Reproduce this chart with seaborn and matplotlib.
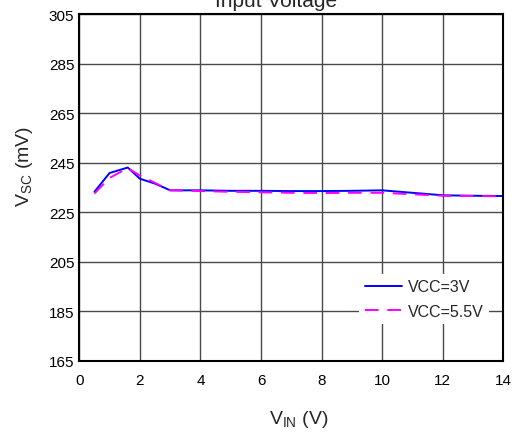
import pandas as pd
import seaborn as sns
import matplotlib.pyplot as plt

# values
vin = [0.5, 1.0, 1.6, 2.0, 2.5, 3.0, 4.0, 5.0, 6.0, 7.0, 8.0, 9.0, 10.0, 11.0, 12.0, 13.0, 14.0]
vsc_3v = [233.2, 240.8, 243.0, 238.5, 236.5, 233.8, 233.8, 233.6, 233.6, 233.5, 233.5, 233.6, 233.8, 232.8, 231.8, 231.6, 231.5]
vsc_55v = [232.5, 238.8, 242.8, 239.8, 236.8, 233.8, 233.5, 233.2, 233.0, 232.8, 232.7, 232.8, 232.8, 232.2, 231.6, 231.5, 231.4]
series = ['VCC=3V', 'VCC=5.5V']
x_ticks = [0, 2, 4, 6, 8, 10, 12, 14]
y_ticks = [165, 185, 205, 225, 245, 265, 285, 305]

df = pd.DataFrame({
    'vin': vin + vin,
    'vsc': vsc_3v + vsc_55v,
    'series': [series[0]] * len(vin) + [series[1]] * len(vin),
})

sns.set_style('white')
plt.rcParams['font.family'] = ['Liberation Sans', 'DejaVu Sans']
plt.rcParams['mathtext.fontset'] = 'custom'
plt.rcParams['mathtext.rm'] = 'Liberation Sans'

fig = plt.figure(figsize=(5.2, 4.35), dpi=100)
ax = fig.add_axes([0.1525, 0.1685, 0.8155, 0.797])

sns.lineplot(data=df, x='vin', y='vsc', hue='series', style='series',
             palette={series[0]: '#0000ff', series[1]: '#ff00ff'},
             dashes={series[0]: '', series[1]: (7, 4.5)},
             linewidth=1.4, ax=ax)

ax.set_xlim(0, 14)
ax.set_ylim(165, 305)
ax.set_xticks(x_ticks)
ax.set_yticks(y_ticks)
ax.tick_params(axis='both', length=0, labelsize=11, colors='black')
ax.tick_params(axis='x', pad=8.5)
ax.tick_params(axis='y', pad=3.5)
ax.grid(True, color='#4a4a4a', linewidth=1)
for s in ax.spines.values():
    s.set_color('black')
    s.set_linewidth(1.5)

ax.set_xlabel('')
ax.set_ylabel('')
fig.text(0.575, 0.035, r'V$_\mathregular{IN}$ (V)', fontsize=14, ha='center', va='center')
fig.text(0.048, 0.617, r'V$_\mathregular{SC}$ (mV)', fontsize=14, ha='center', va='center', rotation=90)
fig.text(0.53, 0.9845, 'Input Voltage', fontsize=15, ha='center', va='baseline')

leg = ax.legend(loc='lower right', bbox_to_anchor=(0.966, 0.105), fontsize=11.5,
                frameon=True, facecolor='white', edgecolor='none', framealpha=1,
                handlelength=2.3, handletextpad=0.375, labelspacing=0.6,
                borderpad=0.35, borderaxespad=0, fancybox=False)

fig.savefig('out.png', dpi=100)
